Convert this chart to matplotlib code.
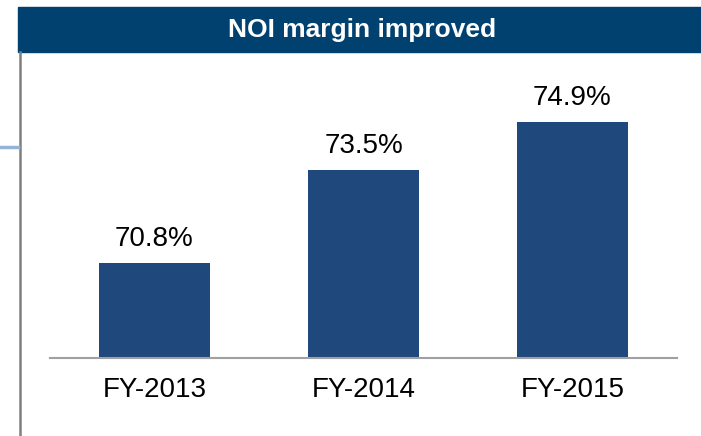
import matplotlib
matplotlib.use("Agg")
import matplotlib.pyplot as plt
from matplotlib.patches import Rectangle
from matplotlib.lines import Line2D

plt.rcParams['font.family'] = ['Liberation Sans', 'DejaVu Sans']

years = ["FY-2013", "FY-2014", "FY-2015"]
margin = [70.8, 73.5, 74.9]
title = "NOI margin improved"

W, H = 701, 436
fig = plt.figure(figsize=(W / 100, H / 100), dpi=100)

def fx(px):
    return px / W

def fy(py):
    return 1 - py / H

# header band
fig.patches.append(Rectangle((fx(18), fy(52)), 1 - fx(18), fy(7) - fy(52),
                             transform=fig.transFigure, color="#00416F", zorder=0))
fig.text(fx(362.5), fy(29.5), title, color="white", fontsize=19, fontweight="bold",
         ha="center", va="center")

# frame lines
fig.lines.append(Line2D([fx(19.5), fx(19.5)], [fy(52), 0], transform=fig.transFigure,
                        color="#7F7F7F", lw=1.8))
fig.lines.append(Line2D([0, fx(18)], [fy(147), fy(147)], transform=fig.transFigure,
                        color="#95B3D7", lw=2.5))

ax = fig.add_axes([fx(50), fy(358), fx(677) - fx(50), fy(52) - fy(358)])
x = range(len(years))
bars = ax.bar(x, margin, width=0.53, color="#1F487C", zorder=2)
ax.set_xlim(-0.5, 2.5)
ax.set_ylim(68.04, 76.94)

for b, v in zip(bars, margin):
    ax.annotate(f"{v:.1f}%", (b.get_x() + b.get_width() / 2, b.get_height()),
                xytext=(0, 8), textcoords="offset points",
                ha="center", va="bottom", fontsize=20, color="black")

ax.set_xticks(list(x))
ax.set_xticklabels(years, fontsize=20)
ax.tick_params(axis="x", length=0, pad=14)
ax.set_yticks([])
for s in ["top", "right", "left"]:
    ax.spines[s].set_visible(False)
ax.spines["bottom"].set_color("#A0A0A0")
ax.spines["bottom"].set_linewidth(1.5)
ax.patch.set_alpha(0)

fig.savefig("out.png", dpi=100)
